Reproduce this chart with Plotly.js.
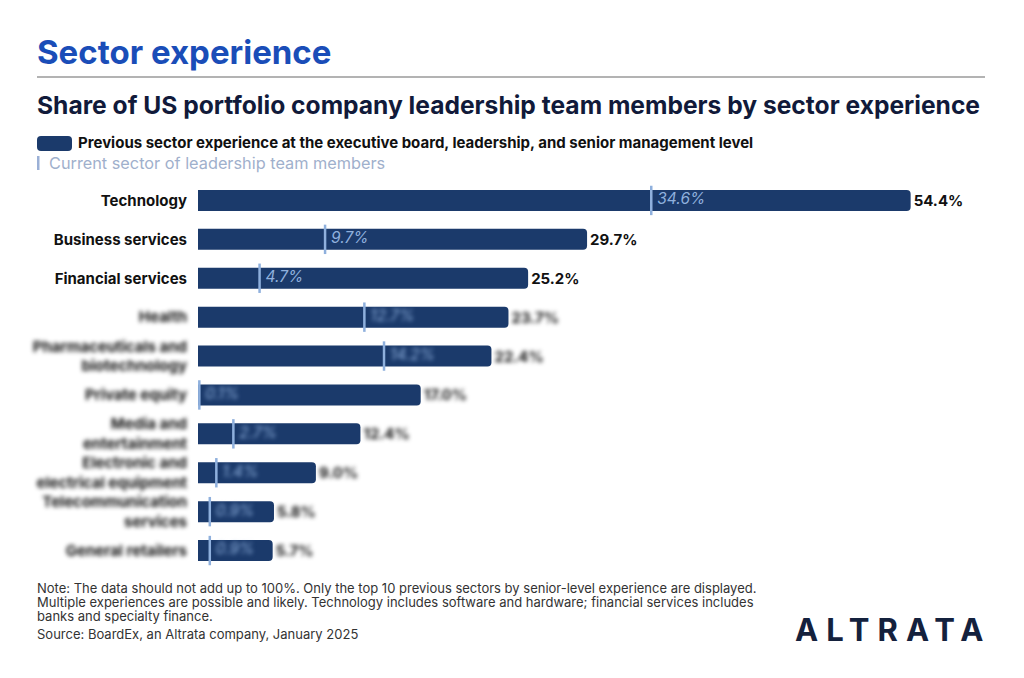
<!DOCTYPE html>
<html>
<head>
<meta charset="utf-8">
<script src="https://cdn.plot.ly/plotly-3.0.1.min.js"></script>
<style>
html,body{margin:0;padding:0;background:#fff;}
#chart{width:1024px;height:678px;}
</style>
</head>
<body>
<div id="chart"></div>
<script>
// ---- data ----
const sectors = [
  "Technology",
  "Business services",
  "Financial services",
  "Health",
  "Pharmaceuticals and<br>biotechnology",
  "Private equity",
  "Media and<br>entertainment",
  "Electronic and<br>electrical equipment",
  "Telecommunication<br>services",
  "General retailers"
];
const previousExperience = [54.4, 29.7, 25.2, 23.7, 22.4, 17.0, 12.4, 9.0, 5.8, 5.7];
const currentSector = [34.6, 9.7, 4.7, 12.7, 14.2, 0.1, 2.7, 1.4, 0.9, 0.9];
const blurredFrom = 3; // rows from here on are blurred in the original

const noteLines = [
  "Note: The data should not add up to 100%. Only the top 10 previous sectors by senior-level experience are displayed.",
  "Multiple experiences are possible and likely. Technology includes software and hardware; financial services includes",
  "banks and specialty finance."
];
const sourceText = "Source: BoardEx, an Altrata company, January 2025";

// ---- layout helpers (pixel -> paper) ----
const W = 1024, H = 678;
const M = {l: 198, r: 40, t: 181, b: 108};
const PW = W - M.l - M.r, PH = H - M.t - M.b;
const px = x => (x - M.l) / PW;
const py = y => (H - M.b - y) / PH;

function roundedRect(x0, y0, x1, y1, r) {
  const P = (x, y) => px(x) + "," + py(y);
  return "M" + P(x0 + r, y0) + " L" + P(x1 - r, y0) + " Q" + P(x1, y0) + " " + P(x1, y0 + r) +
    " L" + P(x1, y1 - r) + " Q" + P(x1, y1) + " " + P(x1 - r, y1) +
    " L" + P(x0 + r, y1) + " Q" + P(x0, y1) + " " + P(x0, y1 - r) +
    " L" + P(x0, y0 + r) + " Q" + P(x0, y0) + " " + P(x0 + r, y0) + " Z";
}

const navy = "#1b3a6b";
const light = "#8fb0dd";
const FONT = "Inter, 'DejaVu Sans', sans-serif";

const traces = [
  {
    type: "bar",
    orientation: "h",
    y: sectors,
    x: previousExperience,
    marker: {color: navy, cornerradius: 4},
    width: 0.54,
    text: previousExperience.map(v => v.toFixed(1) + "%"),
    texttemplate: "<b>%{text}</b>",
    textposition: "outside",
    textfont: {family: FONT, size: 15, color: "#111"},
    cliponaxis: false,
    hoverinfo: "skip",
    showlegend: false
  },
  {
    type: "scatter",
    mode: "markers",
    y: sectors,
    x: currentSector,
    marker: {symbol: "line-ns", size: 21, line: {color: light, width: 2.5}},
    cliponaxis: false,
    hoverinfo: "skip",
    showlegend: false
  },
  {
    type: "scatter",
    mode: "markers+text",
    y: sectors,
    x: currentSector,
    marker: {size: 8, opacity: 0},
    text: currentSector.map(v => "<i>" + v.toFixed(1) + "%</i>"),
    textposition: "middle right",
    textfont: {family: FONT, size: 15.5, color: light},
    cliponaxis: false,
    hoverinfo: "skip",
    showlegend: false
  }
];

const annotations = [
  {text: "<b>Sector experience</b>", x: px(35), y: py(52), xanchor: "left", yanchor: "middle",
   font: {family: FONT, size: 33, color: "#1a4db8"}},
  {text: "<b>Share of US portfolio company leadership team members by sector experience</b>",
   x: px(35), y: py(105), xanchor: "left", yanchor: "middle",
   font: {family: FONT, size: 24.6, color: "#111a3a"}},
  {text: "<b>Previous sector experience at the executive board, leadership, and senior management level</b>",
   x: px(76), y: py(143), xanchor: "left", yanchor: "middle",
   font: {family: FONT, size: 15, color: "#111"}},
  {text: "Current sector of leadership team members",
   x: px(47), y: py(163), xanchor: "left", yanchor: "middle",
   font: {family: FONT, size: 16.3, color: "#9fb0cc"}},
  ...noteLines.map((t, i) => ({
    text: t, x: px(35), y: py(588 + 14 * i), xanchor: "left", yanchor: "middle", align: "left",
    font: {family: FONT, size: 13, color: "#333"}
  })),
  {text: sourceText,
   x: px(35), y: py(634), xanchor: "left", yanchor: "middle", align: "left",
   font: {family: FONT, size: 13, color: "#333"}},
  {text: "<b>ALTRATA</b>", x: px(893), y: py(629), xanchor: "center", yanchor: "middle",
   font: {family: FONT, size: 31, color: "#14213d"}}
].map(a => Object.assign({xref: "paper", yref: "paper", showarrow: false}, a));

const shapes = [
  {type: "line", xref: "paper", yref: "paper", x0: px(37), x1: px(985), y0: py(77), y1: py(77),
   line: {color: "#9a9a9a", width: 1.5}},
  {type: "path", xref: "paper", yref: "paper", path: roundedRect(37, 136, 72, 151, 4),
   fillcolor: navy, line: {width: 0}},
  {type: "rect", xref: "paper", yref: "paper", x0: px(37), x1: px(39.5), y0: py(156), y1: py(170),
   fillcolor: "#9bb0d6", line: {width: 0}}
];

const layout = {
  width: W, height: H,
  margin: M,
  paper_bgcolor: "#fff", plot_bgcolor: "#fff",
  font: {family: FONT},
  xaxis: {range: [0, 60], visible: false, fixedrange: true},
  yaxis: {
    type: "category", range: [sectors.length - 0.5, -0.5], showgrid: false, zeroline: false, showline: false,
    ticks: "", ticklabelstandoff: 10,
    tickfont: {family: FONT, size: 15, color: "#111", weight: 700},
    fixedrange: true
  },
  annotations: annotations,
  shapes: shapes,
  showlegend: false
};

Plotly.newPlot("chart", traces, layout, {staticPlot: true}).then(gd => {
  const BLUR = "blur(2.3px)";
  const blurNames = new Set(sectors.slice(blurredFrom).map(s => s.replace("<br>", "")));
  gd.querySelectorAll(".yaxislayer-above .ytick text").forEach(t => {
    if (blurNames.has(t.textContent.trim())) t.style.filter = BLUR;
  });
  gd.querySelectorAll(".barlayer .trace .point text").forEach((t, i) => {
    if (i >= blurredFrom) t.style.filter = BLUR;
  });
  gd.querySelectorAll(".scatterlayer .trace:nth-child(2) .textpoint text").forEach((t, i) => {
    if (i >= blurredFrom) t.style.filter = BLUR;
  });
  gd.querySelectorAll(".annotation-text").forEach(t => {
    if (t.textContent === "ALTRATA") t.style.letterSpacing = "8px";
  });
});
</script>
</body>
</html>
